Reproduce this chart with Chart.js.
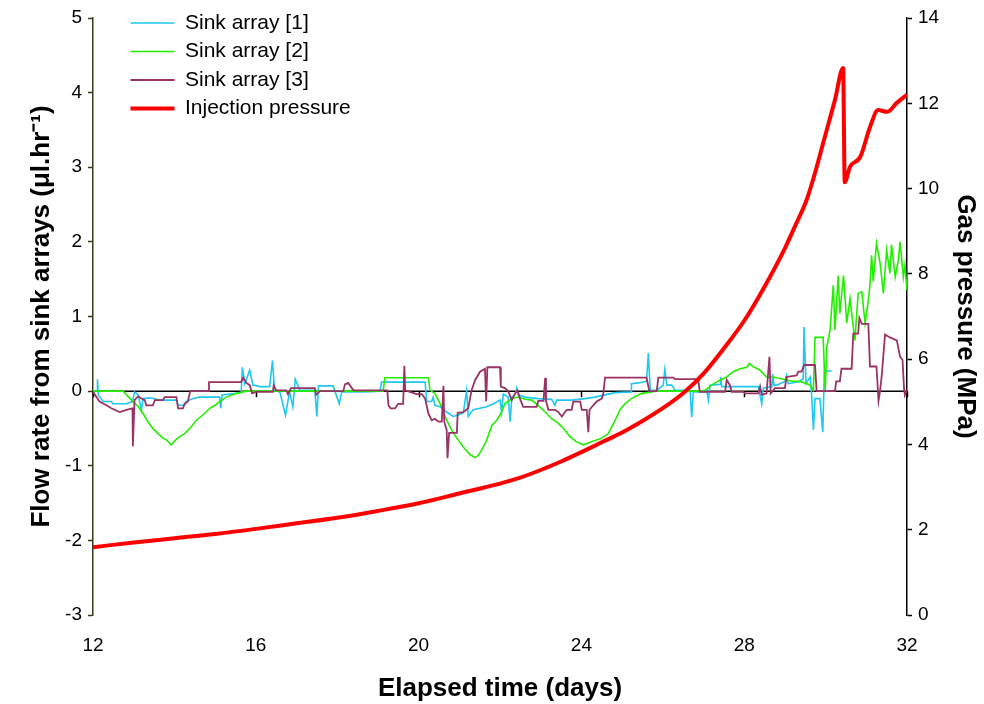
<!DOCTYPE html>
<html>
<head>
<meta charset="utf-8">
<script src="https://cdn.jsdelivr.net/npm/chart.js@4"></script>
<style>
    body { margin: 0; background: #fff; }
    #wrap { width: 984px; height: 704px; }
</style>
</head>
<body>
<div id="wrap"><canvas id="chart" width="984" height="704"></canvas></div>
<script>
const seriesNames = ['Sink array [1]', 'Sink array [2]', 'Sink array [3]', 'Injection pressure'];
const dayTicks = [12, 16, 20, 24, 28, 32];
const flowTicks = [-3, -2, -1, 0, 1, 2, 3, 4, 5];
const pressureTicks = [0, 2, 4, 6, 8, 10, 12, 14];

// [day, flow µl/hr]
const sink1 = [
    [12.0, 0], [12.11, 0], [12.11, 0.16], [12.13, -0.05], [12.25, -0.14], [12.45, -0.14], [12.49, -0.17],
    [12.82, -0.17], [12.97, -0.14], [13.02, -0.01], [13.11, -0.05], [13.19, -0.25], [13.23, -0.1],
    [13.4, -0.09], [13.64, -0.12], [14.05, -0.12], [14.09, -0.19], [14.25, -0.19], [14.29, -0.14],
    [14.46, -0.1], [14.62, -0.08], [15.11, -0.08], [15.14, -0.23], [15.17, -0.05], [15.52, -0.03],
    [15.64, -0.02], [15.67, 0.32], [15.73, 0.1], [15.85, 0.28], [15.93, 0.08], [16.1, 0.06], [16.34, 0.06],
    [16.41, 0.41], [16.46, 0.01], [16.59, -0.01], [16.73, -0.32], [16.83, -0.01], [16.91, -0.21],
    [16.97, 0.16], [17.08, 0.01], [17.45, 0.01], [17.5, -0.34], [17.54, 0.07], [17.9, 0.07], [17.95, -0.01],
    [18.05, -0.17], [18.11, -0.01], [18.64, -0.01], [19.05, 0], [19.09, 0.12], [20.16, 0.12], [20.2, -0.14],
    [20.32, -0.14], [20.36, -0.08], [20.4, -0.19], [20.53, -0.21], [20.69, -0.28], [20.85, -0.34],
    [20.98, -0.32], [21.1, -0.29], [21.18, 0.01], [21.22, -0.34], [21.34, -0.25], [21.51, -0.23],
    [21.67, -0.21], [21.84, -0.17], [22.0, -0.12], [22.04, -0.28], [22.08, -0.04], [22.2, -0.08],
    [22.25, -0.41], [22.29, -0.08], [22.37, -0.05], [22.41, 0.04], [22.45, -0.05], [22.61, -0.08],
    [22.94, -0.1], [23.27, -0.11], [23.35, -0.19], [23.39, -0.12], [23.76, -0.12], [24.09, -0.1],
    [24.33, -0.08], [24.58, -0.05], [24.83, -0.02], [25.22, -0.01], [25.23, 0.1], [25.4, 0.11], [25.6, 0.13],
    [25.645, 0.51], [25.69, 0.01], [25.85, 0.01], [26.01, 0.08], [26.05, 0.29], [26.1, 0.08], [26.22, 0.08],
    [26.3, 0.01], [26.67, 0.01], [26.71, -0.35], [26.75, -0.01], [27.04, -0.01], [27.08, 0.01],
    [27.12, -0.12], [27.16, 0.08], [27.41, 0.09], [27.42, 0.19], [27.45, 0.06], [28.35, 0.06],
    [28.43, -0.17], [28.47, 0.04], [28.68, 0.06], [28.7, 0.23], [28.73, 0.08], [28.8, 0.08], [29.0, 0.13],
    [29.04, 0.21], [29.08, 0.1], [29.37, 0.13], [29.45, 0.17], [29.47, 0.86], [29.52, 0.1], [29.62, 0.19],
    [29.66, -0.08], [29.7, -0.52], [29.74, -0.1], [29.86, -0.1], [29.93, -0.55], [29.97, 0.27], [30.15, 0.27]
];

const sink2 = [
    [12.0, 0], [12.74, 0], [12.98, -0.14], [13.1, -0.2], [13.23, -0.3], [13.35, -0.41], [13.47, -0.5],
    [13.6, -0.57], [13.72, -0.63], [13.82, -0.66], [13.92, -0.72], [14.02, -0.66], [14.13, -0.61],
    [14.25, -0.57], [14.38, -0.5], [14.54, -0.39], [14.7, -0.32], [14.87, -0.23], [15.0, -0.19],
    [15.11, -0.14], [15.28, -0.08], [15.52, -0.03], [15.77, 0], [19.13, 0], [19.17, 0.18], [20.24, 0.18],
    [20.28, 0.01], [20.4, -0.03], [20.53, -0.17], [20.69, -0.39], [20.81, -0.52], [20.94, -0.63],
    [21.1, -0.75], [21.26, -0.85], [21.39, -0.89], [21.47, -0.86], [21.59, -0.75], [21.67, -0.66],
    [21.8, -0.46], [21.92, -0.39], [22.0, -0.32], [22.12, -0.17], [22.29, -0.1], [22.45, -0.08],
    [22.61, -0.11], [22.78, -0.12], [22.94, -0.19], [23.11, -0.28], [23.27, -0.37], [23.43, -0.43],
    [23.56, -0.5], [23.72, -0.61], [23.88, -0.68], [24.05, -0.72], [24.25, -0.68], [24.5, -0.63],
    [24.66, -0.57], [24.83, -0.39], [24.95, -0.25], [25.07, -0.17], [25.23, -0.1], [25.48, -0.03],
    [25.73, -0.01], [25.81, 0], [26.9, 0], [27.04, 0.01], [27.2, 0.08], [27.41, 0.15], [27.57, 0.19],
    [27.73, 0.26], [27.9, 0.3], [28.06, 0.32], [28.13, 0.37], [28.22, 0.33], [28.39, 0.28], [28.55, 0.19],
    [28.72, 0.19], [28.88, 0.17], [29.04, 0.15], [29.21, 0.13], [29.37, 0.13], [29.54, 0.1], [29.62, 0.08],
    [29.7, 0.01], [29.74, 0.72], [29.94, 0.72], [29.99, 0.01], [30.03, 0.59], [30.11, 0.82], [30.19, 1.42],
    [30.23, 0.82], [30.31, 1.55], [30.35, 1.04], [30.44, 1.55], [30.52, 0.91], [30.6, 1.24], [30.68, 0.86],
    [30.72, 0.68], [30.8, 1.31], [30.89, 1.33], [30.97, 0.91], [31.05, 1.22], [31.09, 1.42], [31.13, 1.82],
    [31.17, 1.47], [31.25, 1.98], [31.34, 1.71], [31.42, 1.31], [31.5, 1.89], [31.58, 1.58], [31.62, 1.96],
    [31.71, 1.53], [31.79, 1.76], [31.83, 2.0], [31.91, 1.53], [31.95, 1.69], [32.0, 1.35]
];

const sink3 = [
    [12.0, -0.01], [12.16, -0.14], [12.33, -0.19], [12.45, -0.23], [12.66, -0.28], [12.82, -0.25],
    [12.97, -0.23], [12.98, -0.74], [13.02, -0.12], [13.11, -0.07], [13.19, -0.1], [13.27, -0.12],
    [13.31, -0.19], [13.47, -0.19], [13.52, -0.12], [13.72, -0.12], [13.76, -0.08], [14.05, -0.08],
    [14.09, -0.23], [14.21, -0.23], [14.25, -0.17], [14.33, -0.14], [14.39, 0], [14.83, 0], [14.85, 0.12],
    [15.64, 0.12], [15.69, 0.18], [15.77, 0.11], [15.85, 0.08], [15.91, -0.03], [16.01, -0.01],
    [16.42, -0.01], [16.44, 0.08], [16.5, 0.01], [16.75, 0.01], [16.79, -0.04], [16.87, 0.04], [17.45, 0.04],
    [17.48, -0.05], [17.54, -0.02], [17.58, 0], [18.15, 0], [18.19, 0.09], [18.27, 0.11], [18.36, 0.04],
    [18.4, 0.01], [19.23, 0.01], [19.26, -0.19], [19.31, -0.23], [19.42, -0.23], [19.5, -0.17],
    [19.62, -0.17], [19.65, 0.34], [19.67, 0.01], [19.95, -0.04], [20.08, -0.04], [20.16, -0.1],
    [20.24, -0.3], [20.32, -0.39], [20.4, -0.37], [20.49, -0.41], [20.57, -0.41], [20.61, 0.07],
    [20.63, -0.41], [20.69, -0.52], [20.71, -0.9], [20.75, -0.56], [20.94, -0.56], [20.96, -0.29],
    [21.1, -0.28], [21.22, -0.23], [21.3, 0.01], [21.39, 0.15], [21.51, 0.26], [21.63, 0.3], [21.66, -0.14],
    [21.69, 0.32], [22.0, 0.32], [22.02, 0.06], [22.12, 0.04], [22.2, 0], [22.29, -0.12], [22.37, -0.03],
    [22.43, 0.01], [22.49, -0.1], [22.57, -0.21], [22.9, -0.21], [22.94, -0.13], [23.07, -0.13],
    [23.11, 0.18], [23.13, -0.13], [23.19, -0.25], [23.35, -0.25], [23.43, -0.28], [23.52, -0.34],
    [23.6, -0.28], [23.64, -0.25], [23.76, -0.25], [23.8, -0.14], [23.97, -0.14], [24.01, -0.25],
    [24.13, -0.25], [24.17, -0.55], [24.2, -0.25], [24.29, -0.19], [24.375, -0.14], [24.5, -0.1],
    [24.54, -0.03], [24.58, 0.18], [25.6, 0.18], [25.67, 0], [25.85, 0], [25.89, 0.18], [26.26, 0.18],
    [26.3, 0.16], [26.87, 0.16], [26.91, -0.01], [27.53, -0.01], [27.57, 0.15], [27.65, 0.08],
    [27.69, -0.01], [27.98, -0.01], [28.02, -0.03], [28.35, -0.03], [28.39, 0.06], [28.43, -0.05],
    [28.55, -0.03], [28.62, 0.46], [28.65, -0.03], [28.76, 0.04], [29.0, 0.04], [29.04, 0.19], [29.29, 0.21],
    [29.33, 0.26], [29.41, 0.26], [29.47, 0.35], [29.74, 0.35], [29.78, 0], [30.23, 0], [30.26, 0.13],
    [30.35, 0.13], [30.39, 0.3], [30.64, 0.3], [30.68, 0.77], [30.8, 0.77], [30.83, 0.98], [30.89, 0.9],
    [31.05, 0.9], [31.09, 0.33], [31.25, 0.33], [31.3, -0.13], [31.34, 0.01], [31.38, 0.21], [31.46, 0.76],
    [31.58, 0.72], [31.75, 0.68], [31.83, 0.46], [31.89, 0.42], [31.93, 0.01], [31.95, -0.05], [32.0, 0.01]
];

// [day, MPa]
const pressure = [
    [12.0, 1.59], [13.0, 1.7], [14.0, 1.8], [15.0, 1.9], [16.0, 2.02], [17.0, 2.15], [18.0, 2.28],
    [19.0, 2.44], [20.0, 2.62], [21.0, 2.85], [22.0, 3.08], [22.5, 3.22], [23.0, 3.4], [23.5, 3.6],
    [24.0, 3.82], [24.5, 4.05], [25.0, 4.28], [25.5, 4.55], [26.0, 4.85], [26.5, 5.2], [27.0, 5.66],
    [27.5, 6.25], [28.0, 6.9], [28.5, 7.7], [29.0, 8.6], [29.25, 9.12], [29.54, 9.75], [29.75, 10.4],
    [29.94, 11.07], [30.23, 12.08], [30.43, 12.83], [30.47, 10.15], [30.6, 10.51], [30.85, 10.74],
    [31.09, 11.44], [31.29, 11.84], [31.51, 11.8], [31.75, 12.01], [32.0, 12.2]
];

const tickFont = { family: "'Liberation Sans', Arial", size: 19 };
const titleFont = { family: "'Liberation Sans', Arial", size: 26, weight: 'bold' };
const axisOlive = '#3a3a14';

const zeroLine = {
    id: 'zeroLine',
    beforeDatasetsDraw(chart) {
        const ctx = chart.ctx;
        const x = chart.scales.x;
        const y0 = chart.scales.y.getPixelForValue(0);
        ctx.save();
        ctx.strokeStyle = '#000';
        ctx.lineWidth = 1.5;
        ctx.beginPath();
        ctx.moveTo(chart.chartArea.left, y0);
        ctx.lineTo(chart.chartArea.right, y0);
        for (const d of dayTicks) {
            const px = Math.round(x.getPixelForValue(d)) + 0.5;
            ctx.moveTo(px, y0);
            ctx.lineTo(px, y0 + 6);
        }
        ctx.stroke();
        ctx.restore();
    }
};

const legendShift = {
    id: 'legendShift',
    afterLayout(chart) {
        chart.legend.left += 30;
        chart.legend.top += 5;
    }
};

const colors = ['#1ec8f2', '#22ee00', '#993366', '#ff0000'];

new Chart(document.getElementById('chart'), {
    type: 'line',
    data: {
        datasets: [
            { label: seriesNames[0], data: sink1, yAxisID: 'y', borderColor: colors[0], borderWidth: 1.6, order: 3 },
            { label: seriesNames[1], data: sink2, yAxisID: 'y', borderColor: colors[1], borderWidth: 1.6, order: 2 },
            { label: seriesNames[2], data: sink3, yAxisID: 'y', borderColor: colors[2], borderWidth: 1.8, order: 1 },
            { label: seriesNames[3], data: pressure, yAxisID: 'y1', borderColor: colors[3], borderWidth: 4, order: 0, cubicInterpolationMode: 'monotone' }
        ]
    },
    options: {
        responsive: false,
        animation: false,
        devicePixelRatio: 1,
        elements: {
            point: { radius: 0 },
            line: { tension: 0, fill: false }
        },
        layout: { padding: { top: 18, left: 0, right: 0, bottom: 0 } },
        plugins: {
            tooltip: { enabled: false },
            legend: {
                position: 'chartArea',
                align: 'start',
                labels: {
                    usePointStyle: true,
                    pointStyle: 'line',
                    pointStyleWidth: 44,
                    padding: 7.5,
                    color: '#000',
                    font: { family: "'Liberation Sans', Arial", size: 21 },
                    sort: (a, b) => a.datasetIndex - b.datasetIndex
                }
            }
        },
        scales: {
            x: {
                type: 'linear',
                min: 12,
                max: 32,
                afterBuildTicks: (axis) => { axis.ticks = dayTicks.map(v => ({ value: v })); },
                afterFit: (axis) => { axis.height = 89; },
                border: { display: false },
                grid: { display: false },
                ticks: { color: '#000', font: tickFont, padding: 11, maxRotation: 0 },
                title: { display: true, text: 'Elapsed time (days)', color: '#000', font: titleFont, padding: { top: 0, bottom: 0 } }
            },
            y: {
                position: 'left',
                min: -3,
                max: 5,
                afterBuildTicks: (axis) => { axis.ticks = flowTicks.map(v => ({ value: v })); },
                afterFit: (axis) => { axis.width = 93; },
                border: { display: true, color: axisOlive, width: 1.5 },
                grid: { drawOnChartArea: false, tickColor: axisOlive, tickLength: 5, tickWidth: 1.5 },
                ticks: { color: '#000', font: tickFont, padding: 6 },
                title: { display: true, text: 'Flow rate from sink arrays (μl.hr⁻¹)', color: '#000', font: titleFont, padding: { top: 26, bottom: 0 } }
            },
            y1: {
                position: 'right',
                min: 0,
                max: 14,
                afterBuildTicks: (axis) => { axis.ticks = pressureTicks.map(v => ({ value: v })); },
                afterFit: (axis) => { axis.width = 77; },
                border: { display: true, color: '#000', width: 1.5 },
                grid: { drawOnChartArea: false, tickColor: '#000', tickLength: 5, tickWidth: 1.5 },
                ticks: { color: '#000', font: tickFont, padding: 6 },
                title: { display: true, text: 'Gas pressure (MPa)', color: '#000', font: titleFont, padding: { top: 3, bottom: 0 } }
            }
        }
    },
    plugins: [zeroLine, legendShift]
});
</script>
</body>
</html>
